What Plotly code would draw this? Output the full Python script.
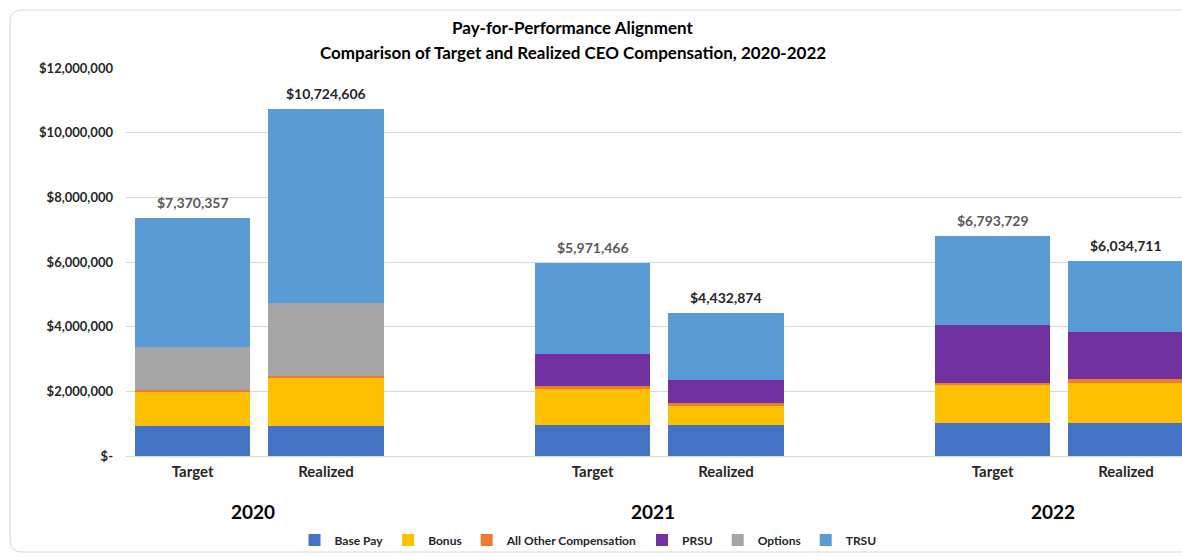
import plotly.graph_objects as go

# ---------------- data ----------------
years = ["2020", "2021", "2022"]
bar_kinds = ["Target", "Realized"]

series_names = ["Base Pay", "Bonus", "All Other Compensation", "PRSU", "Options", "TRSU"]
series_colors = ["#4472C4", "#FFC000", "#ED7D31", "#7030A0", "#A5A5A5", "#5B9BD5"]

# order: 2020 T, 2020 R, 2021 T, 2021 R, 2022 T, 2022 R
base_pay = [930000, 930000, 960000, 960000, 1010000, 1010000]
bonus = [1080000, 1470000, 1110000, 590000, 1210000, 1260000]
other_comp = [20000, 70000, 110000, 100000, 50000, 100000]
prsu = [0, 0, 960000, 690000, 1790000, 1450000]
options = [1350000, 2270000, 0, 0, 0, 0]
trsu = [3990357, 5984606, 2831466, 2092874, 2733729, 2214711]

series_values = [base_pay, bonus, other_comp, prsu, options, trsu]

y_tick_vals = [0, 2000000, 4000000, 6000000, 8000000, 10000000, 12000000]
y_tick_text = ["$-", "$2,000,000", "$4,000,000", "$6,000,000", "$8,000,000", "$10,000,000", "$12,000,000"]

title_line1 = "Pay-for-Performance Alignment"
title_line2 = "Comparison of Target and Realized CEO Compensation, 2020-2022"

# ---------------- layout helpers ----------------
FONT = "Lato"
W, H = 1182, 556
PL, PR, PT, PB = 126, 1182, 68, 456  # plot area in pixels


def px_x(p):
    return (p - PL) / (PR - PL)


def px_y(p):
    return (PB - p) / (PB - PT)


# slot positions: each year has Target, Realized, blank slot
x_pos = []
x_labels = []
for g, yr in enumerate(years):
    for i, k in enumerate(bar_kinds):
        x_pos.append(3 * g + i)
        x_labels.append(k)

fig = go.Figure()
for name, color, vals in zip(series_names, series_colors, series_values):
    fig.add_trace(go.Bar(
        x=x_pos, y=vals, name=name,
        marker=dict(color=color, line=dict(width=0)),
        width=0.865,
        hoverinfo="name+y",
    ))

totals = [sum(v[i] for v in series_values) for i in range(len(x_pos))]

annotations = []
for i, (xp, tot) in enumerate(zip(x_pos, totals)):
    is_target = x_labels[i] == "Target"
    annotations.append(dict(
        x=xp, y=tot, xref="x", yref="y",
        text=f"${tot:,.0f}", showarrow=False,
        yanchor="bottom", yshift=5,
        font=dict(family=FONT, size=14, color="#595959" if is_target else "#262626", weight="bold"),
    ))

for g, yr in enumerate(years):
    annotations.append(dict(
        x=3 * g + 0.455, y=px_y(511), xref="x", yref="paper",
        text=yr, showarrow=False, yanchor="middle",
        font=dict(family=FONT, size=19, color="#000000", weight="bold"),
    ))

annotations.append(dict(
    x=px_x(572), y=px_y(28), xref="paper", yref="paper", text=title_line1,
    showarrow=False, yanchor="middle",
    font=dict(family=FONT, size=17, color="#000000", weight="bold"),
))
annotations.append(dict(
    x=px_x(573), y=px_y(53), xref="paper", yref="paper", text=title_line2,
    showarrow=False, yanchor="middle",
    font=dict(family=FONT, size=17, color="#000000", weight="bold"),
))

# rounded panel border (extends beyond right edge)
r = 12
x0, x1, y0, y1 = px_x(10), px_x(1300), px_y(10), px_y(552)
rx = r / (PR - PL)
ry = r / (PB - PT)
path = (f"M {x1},{y0} L {x0 + rx},{y0} Q {x0},{y0} {x0},{y0 - ry} "
        f"L {x0},{y1 + ry} Q {x0},{y1} {x0 + rx},{y1} L {x1},{y1}")

fig.update_layout(
    width=W, height=H,
    margin=dict(l=PL, r=W - PR, t=PT, b=H - PB, pad=0),
    paper_bgcolor="white", plot_bgcolor="white",
    barmode="stack",
    font=dict(family=FONT, color="#262626"),
    showlegend=True,
    legend=dict(
        orientation="h", x=px_x(588), xanchor="center", y=px_y(540), yanchor="middle",
        font=dict(family=FONT, size=12, color="#262626", weight="bold"),
        traceorder="normal", itemwidth=30, bgcolor="rgba(0,0,0,0)",
    ),
    annotations=annotations,
    shapes=[dict(type="path", path=path, xref="paper", yref="paper",
                 line=dict(color="#D9D9D9", width=1), layer="below")],
    xaxis=dict(
        range=[-0.5, 7.42], tickvals=x_pos, ticktext=x_labels,
        showgrid=False, zeroline=False, showline=False, ticks="",
        tickfont=dict(family=FONT, size=15, color="#262626", weight="bold"),
        ticklabelstandoff=5, fixedrange=True,
    ),
    yaxis=dict(
        range=[0, 12000000], tickvals=y_tick_vals, ticktext=y_tick_text,
        showgrid=True, gridcolor="#D9D9D9", gridwidth=1,
        zeroline=True, zerolinecolor="#D9D9D9", zerolinewidth=1,
        showline=False, ticks="",
        tickfont=dict(family=FONT, size=13, color="#262626", weight="bold"),
        ticklabelstandoff=12, fixedrange=True,
    ),
)

fig.write_html(
    "out.html",
    config={"displayModeBar": False},
    post_script="document.body.style.margin='0';document.body.style.overflow='hidden';",
)
